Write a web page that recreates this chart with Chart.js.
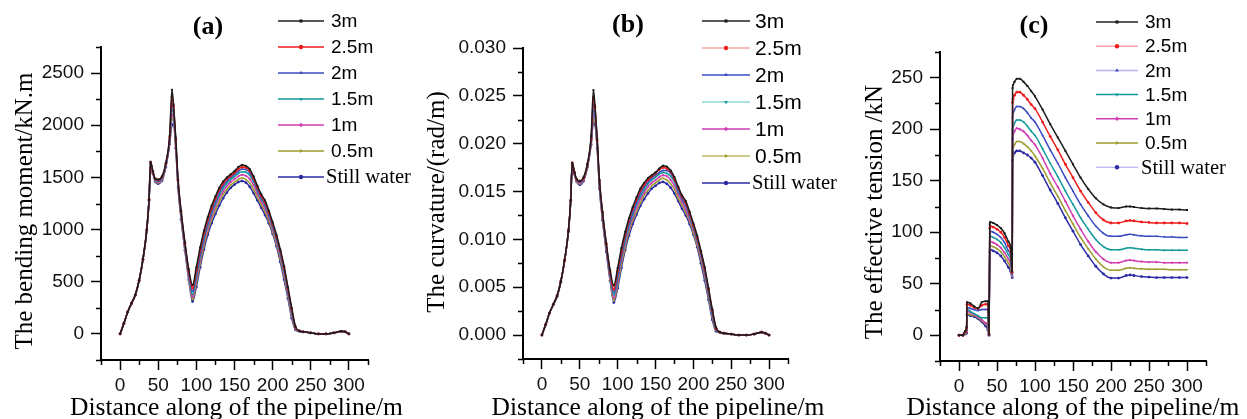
<!DOCTYPE html>
<html>
<head>
<meta charset="utf-8">
<script src="https://cdn.jsdelivr.net/npm/chart.js@4.4.0/dist/chart.umd.min.js"></script>
<style>
  html, body { margin: 0; padding: 0; background: #fff; width: 1247px; height: 419px; overflow: hidden; }
  canvas { position: absolute; top: 0; }
</style>
</head>
<body>
<canvas id="chartA" width="420" height="419" style="left:0"></canvas>
<canvas id="chartB" width="420" height="419" style="left:420px"></canvas>
<canvas id="chartC" width="407" height="419" style="left:840px"></canvas>
<script>
// ---- data ----
const waveLabels = ['3m', '2.5m', '2m', '1.5m', '1m', '0.5m', 'Still water'];

const xTickValues = [0, 50, 100, 150, 200, 250, 300];
const xMinorValues = [-25, 25, 75, 125, 175, 225, 275, 325];
const momentTickValues = [0, 500, 1000, 1500, 2000, 2500];
const momentMinorValues = [-250, 250, 750, 1250, 1750, 2250, 2750];
const curvatureTickValues = [0, 0.005, 0.01, 0.015, 0.02, 0.025, 0.03];
const curvatureMinorValues = [-0.0025, 0.0025, 0.0075, 0.0125, 0.0175, 0.0225, 0.0275];
const tensionTickValues = [0, 50, 100, 150, 200, 250];
const tensionMinorValues = [-25, 25, 75, 125, 175, 225, 275];

// distance along the pipeline (m), panels (a) and (b)
const distAB = [0,5,10,15,20,25,30,35,38,40,43,46,50,55,60,65,68,70,73,76,80,85,90,95,
  100,105,110,115,120,125,130,135,140,145,150,155,160,165,170,175,180,185,190,195,200,205,210,215,220,225,230,
  235,240,250,260,270,280,290,295,300];

// bending moment (kN.m)
const moment3m  = [0,100,210,295,375,515,720,1000,1290,1650,1560,1490,1480,1510,1640,1900,2340,2200,1880,1480,1180,880,620,470,
  640,830,990,1120,1230,1320,1400,1460,1500,1530,1560,1600,1620,1610,1580,1510,1420,1340,1280,1180,1070,950,810,650,450,250,70,
  30,20,10,0,0,10,25,20,0];
const moment25m = [0,100,210,295,375,515,715,1000,1290,1645,1555,1485,1475,1505,1630,1880,2270,2180,1860,1470,1170,870,600,440,
  610,800,965,1095,1205,1300,1380,1440,1485,1515,1545,1580,1600,1595,1565,1495,1405,1325,1260,1165,1055,935,795,635,435,235,65,
  30,20,10,0,0,10,25,20,0];
const moment2m  = [0,100,210,295,372,512,715,995,1285,1640,1550,1480,1470,1500,1620,1860,2200,2150,1840,1455,1155,855,585,410,
  580,770,940,1070,1180,1275,1355,1420,1465,1500,1530,1560,1580,1575,1545,1480,1390,1310,1245,1150,1040,920,780,620,420,220,60,
  28,20,10,0,0,10,25,20,0];
const moment15m = [0,100,210,292,372,512,712,995,1285,1640,1548,1475,1460,1492,1612,1850,2150,2110,1820,1440,1140,840,570,380,
  550,740,910,1045,1155,1250,1330,1395,1445,1480,1510,1540,1555,1550,1520,1460,1375,1295,1230,1135,1025,905,765,605,405,205,55,
  28,20,10,0,0,10,25,20,0];
const moment1m  = [0,100,210,292,372,510,712,992,1282,1635,1545,1470,1452,1485,1608,1840,2100,2080,1805,1425,1125,825,555,355,
  520,710,880,1015,1125,1220,1300,1365,1415,1455,1485,1510,1525,1515,1485,1425,1345,1270,1200,1110,1005,885,745,585,390,190,50,
  27,20,10,0,0,10,25,20,0];
const moment05m = [0,100,210,290,370,510,710,990,1280,1632,1542,1465,1446,1478,1604,1830,2060,2045,1790,1410,1110,810,535,330,
  485,675,845,985,1095,1185,1265,1335,1385,1425,1455,1480,1495,1480,1445,1385,1310,1240,1170,1085,980,860,720,555,365,170,45,
  26,20,10,0,0,10,25,20,0];
const momentStill = [0,100,210,290,370,510,710,990,1280,1630,1540,1460,1440,1470,1600,1820,2000,2010,1780,1400,1100,800,520,310,
  450,640,810,950,1060,1150,1230,1300,1355,1400,1430,1455,1465,1450,1410,1350,1280,1210,1140,1060,960,840,690,520,340,150,40,
  25,20,10,0,0,10,25,20,0];

// curvature (rad/m)
const curv3m  = [0,0.0011,0.0023,0.0032,0.0041,0.0056,0.0079,0.0109,0.0141,0.0180,0.0170,0.0163,0.0161,0.0165,0.0179,0.0208,0.0256,0.0240,0.0205,0.0162,0.0129,0.0096,0.0068,0.0052,
  0.0070,0.0091,0.0108,0.0122,0.0134,0.0144,0.0153,0.0159,0.0164,0.0167,0.0170,0.0174,0.0177,0.0176,0.0172,0.0165,0.0155,0.0146,0.0140,0.0129,0.0117,0.0104,0.0088,0.0071,0.0049,0.0027,0.0008,
  0.0003,0.0002,0.0001,0,0,0.0001,0.0003,0.0002,0];
const curv25m = [0,0.0011,0.0023,0.0032,0.0041,0.0056,0.0078,0.0109,0.0141,0.0180,0.0170,0.0162,0.0161,0.0164,0.0178,0.0205,0.0248,0.0238,0.0203,0.0161,0.0128,0.0095,0.0066,0.0048,
  0.0067,0.0087,0.0105,0.0120,0.0132,0.0142,0.0151,0.0157,0.0162,0.0166,0.0169,0.0173,0.0175,0.0174,0.0171,0.0163,0.0154,0.0145,0.0138,0.0127,0.0115,0.0102,0.0087,0.0069,0.0048,0.0026,0.0007,
  0.0003,0.0002,0.0001,0,0,0.0001,0.0003,0.0002,0];
const curv2m  = [0,0.0011,0.0023,0.0032,0.0041,0.0056,0.0078,0.0109,0.0140,0.0179,0.0169,0.0162,0.0160,0.0164,0.0177,0.0203,0.0241,0.0235,0.0201,0.0159,0.0126,0.0093,0.0064,0.0045,
  0.0063,0.0084,0.0103,0.0117,0.0129,0.0139,0.0148,0.0155,0.0160,0.0164,0.0167,0.0170,0.0172,0.0172,0.0169,0.0162,0.0152,0.0143,0.0136,0.0126,0.0114,0.0101,0.0085,0.0068,0.0046,0.0024,0.0007,
  0.0003,0.0002,0.0001,0,0,0.0001,0.0003,0.0002,0];
const curv15m = [0,0.0011,0.0023,0.0032,0.0041,0.0056,0.0078,0.0109,0.0140,0.0179,0.0169,0.0161,0.0160,0.0163,0.0176,0.0202,0.0235,0.0231,0.0199,0.0157,0.0125,0.0092,0.0062,0.0042,
  0.0060,0.0081,0.0099,0.0114,0.0126,0.0137,0.0145,0.0152,0.0158,0.0162,0.0165,0.0168,0.0170,0.0169,0.0166,0.0160,0.0150,0.0142,0.0135,0.0124,0.0112,0.0099,0.0084,0.0066,0.0044,0.0022,0.0006,
  0.0003,0.0002,0.0001,0,0,0.0001,0.0003,0.0002,0];
const curv1m  = [0,0.0011,0.0023,0.0032,0.0041,0.0056,0.0078,0.0108,0.0140,0.0179,0.0168,0.0161,0.0159,0.0162,0.0176,0.0201,0.0230,0.0228,0.0197,0.0156,0.0123,0.0090,0.0060,0.0039,
  0.0057,0.0078,0.0096,0.0111,0.0123,0.0133,0.0142,0.0149,0.0155,0.0159,0.0162,0.0165,0.0167,0.0166,0.0162,0.0156,0.0147,0.0139,0.0131,0.0121,0.0110,0.0097,0.0082,0.0064,0.0043,0.0021,0.0006,
  0.0003,0.0002,0.0001,0,0,0.0001,0.0003,0.0002,0];
const curv05m = [0,0.0011,0.0023,0.0032,0.0040,0.0056,0.0078,0.0108,0.0140,0.0178,0.0168,0.0160,0.0158,0.0162,0.0175,0.0200,0.0226,0.0224,0.0196,0.0154,0.0121,0.0089,0.0058,0.0036,
  0.0053,0.0074,0.0092,0.0108,0.0120,0.0129,0.0138,0.0146,0.0151,0.0156,0.0159,0.0162,0.0164,0.0162,0.0158,0.0152,0.0143,0.0136,0.0128,0.0119,0.0107,0.0094,0.0079,0.0061,0.0040,0.0019,0.0005,
  0.0003,0.0002,0.0001,0,0,0.0001,0.0003,0.0002,0];
const curvStill = [0,0.0011,0.0023,0.0032,0.0040,0.0056,0.0078,0.0108,0.0140,0.0178,0.0168,0.0160,0.0157,0.0161,0.0175,0.0199,0.0222,0.0220,0.0195,0.0153,0.0120,0.0087,0.0057,0.0034,
  0.0049,0.0070,0.0089,0.0104,0.0116,0.0126,0.0135,0.0142,0.0148,0.0153,0.0156,0.0159,0.0160,0.0158,0.0154,0.0148,0.0140,0.0132,0.0125,0.0116,0.0105,0.0092,0.0075,0.0057,0.0037,0.0016,0.0004,
  0.0003,0.0002,0.0001,0,0,0.0001,0.0003,0.0002,0];

// distance along the pipeline (m), panel (c)
const distC = [0,5,8,10,10.5,15,20,25,30,35,38,39.5,40.5,41,45,50,55,60,65,68,70,70.5,71,
  73,76,80,85,90,95,100,110,120,130,140,150,160,170,180,190,200,210,220,225,230,240,250,260,270,280,290,300];

// effective tension (kN)
const tension3m  = [0,0,4,8,32,31,28,26,32,33,33,1,108,110,109,107,104,99,91,85,62,240,243,
  246,249,249,246,242,237,232,219,205,192,179,166,153,142,133,127,124,123.5,125,125,124.5,123.5,123,123,122.5,122,122,121.5];
const tension25m = [0,0,3,7,30,29,27,26,29,30,30,1,104,106,105,103,100,95,87,81,61,226,229,
  233,236,236,233,229,224,220,207,193,180,166,153,140,129,119,112,109,109,111,111.5,111,110,109.5,109,109,109,109,108.5];
const tension2m  = [0,0,3,6,27,26,25,24,25,25,25,1,99,101,100,98,95,90,82,77,60,212,215,
  219,222,222,220,216,211,207,194,180,167,153,140,127,116,106,99,96,96,97.5,98,97.5,96.5,96,96,95.5,95.5,95,95];
const tension15m = [0,0,2,5,25,23,21,19,17,17,17,1,94,96,95,93,90,85,78,73,59,199,202,
  206,209,209,207,203,198,194,181,167,154,140,127,114,103,93,86,83,83,84.5,85,84.5,83.5,83,83,82.5,82.5,82.5,82.5];
const tension1m  = [0,0,2,4,23,22,20,18,15,12,10,1,89,91,90,88,85,80,74,69,58,191,195,
  198,201,200,198,194,189,185,172,157,144,130,116,103,91,81,74,70.5,70.5,72.5,73,72.5,71.5,71,71,70.5,70.5,70.5,70.5];
const tension05m = [0,0,1,3,21,20,19,17,14,11,8,1,85,87,86,84,81,76,70,65,57,178,182,
  185,188,188,186,183,179,174,162,148,135,121,108,95,84,74,66.5,63,63,65,65.5,65,64.5,64,64,64,63.5,63.5,63.5];
const tensionStill = [0,0,1,2,20,19,18,16,13,9,5,0,81,83,82,80,77,72,66,62,56,170,174,
  177,179,179,177,175,172,168,155,141,128,114,101,88,77,67,59.5,55.5,55.5,58,58.5,58,57,56.5,56,56,56,56,56];

// ---- styling ----
const seriesColors = ['#1c1c1c', '#ee1c1c', '#3a4cc0', '#12999a', '#cf3fb2', '#9c9c2c', '#2b2ba6'];
const markerStyles = ['rect', 'circle', 'triangle', 'triangle', 'rectRot', 'triangle', 'circle'];
const markerRotations = [0, 0, 0, 180, 0, 90, 0];
const SANS = '"Liberation Sans", Arial, sans-serif';
const SERIF = '"Liberation Serif", "Times New Roman", serif';

// draws panel letter, legend, axis titles and minor ticks
const decor = {
  id: 'decor',
  afterDraw(chart, args, o) {
    const { ctx, chartArea: area, scales } = chart;
    const xs = scales.x, ys = scales.y;
    ctx.save();
    ctx.strokeStyle = '#000';
    ctx.fillStyle = '#000';
    ctx.lineWidth = 1.5;
    ctx.beginPath();
    o.xMinor.forEach(v => {
      const px = Math.round(xs.getPixelForValue(v)) + 0.5;
      ctx.moveTo(px, area.bottom);
      ctx.lineTo(px, area.bottom + 5);
    });
    o.yMinor.forEach(v => {
      const py = Math.round(ys.getPixelForValue(v)) + 0.5;
      ctx.moveTo(area.left, py);
      ctx.lineTo(area.left - 5, py);
    });
    ctx.stroke();

    // panel letter
    ctx.font = 'bold 26px ' + SERIF;
    ctx.textAlign = 'center';
    ctx.textBaseline = 'alphabetic';
    ctx.fillText(o.label, o.labelX, o.labelBase);

    // axis titles
    ctx.font = '25.5px ' + SERIF;
    ctx.fillText(o.xTitle, o.xTitleX, o.xTitleBase);
    ctx.save();
    ctx.translate(o.yTitleBase, o.yTitleY);
    ctx.rotate(-Math.PI / 2);
    ctx.font = '25px ' + SERIF;
    ctx.fillText(o.yTitle, 0, 0);
    ctx.restore();

    // legend
    const lg = o.legend;
    chart.data.datasets.forEach((ds, i) => {
      const y = lg.y + i * lg.gap;
      ctx.strokeStyle = lg.lineColors[i];
      ctx.lineWidth = 1.5;
      ctx.beginPath();
      ctx.moveTo(lg.x, y);
      ctx.lineTo(lg.x + lg.len, y);
      ctx.stroke();
      ctx.fillStyle = ds.borderColor;
      ctx.strokeStyle = ds.borderColor;
      Chart.helpers.drawPoint(ctx, { pointStyle: ds.pointStyle, rotation: ds.pointRotation, radius: 2.2, borderWidth: 0 }, lg.x + lg.len / 2, y);
      ctx.fillStyle = '#000';
      ctx.textAlign = 'left';
      ctx.textBaseline = 'middle';
      const still = ds.label === 'Still water';
      ctx.font = still ? '20.5px ' + SERIF : lg.font + 'px ' + SANS;
      ctx.fillText(ds.label, lg.x + lg.len + (still ? lg.stillGap : lg.textGap), y + 1);
    });
    ctx.restore();
  }
};

function makeChart(id, cfg) {
  const datasets = cfg.series.map((vals, i) => ({
    label: waveLabels[i],
    data: vals.map((v, k) => ({ x: cfg.dist[k], y: v })),
    borderColor: seriesColors[i],
    backgroundColor: seriesColors[i],
    borderWidth: 1.5,
    pointRadius: 1.4,
    pointBorderWidth: 0,
    pointStyle: markerStyles[i],
    pointRotation: markerRotations[i],
    cubicInterpolationMode: 'monotone',
    fill: false
  }));
  return new Chart(document.getElementById(id), {
    type: 'line',
    data: { datasets },
    options: {
      responsive: false,
      animation: false,
      devicePixelRatio: 1,
      events: [],
      layout: { padding: cfg.padding },
      plugins: { legend: { display: false }, tooltip: { enabled: false }, decor: cfg.decor },
      scales: {
        x: {
          type: 'linear', min: -25, max: 325,
          afterBuildTicks: s => { s.ticks = xTickValues.map(v => ({ value: v })); },
          afterFit: s => { s.height = cfg.xAxisHeight; },
          border: { color: '#000', width: 2 },
          grid: { drawOnChartArea: false, tickLength: 10, tickWidth: 1.5, tickColor: '#000' },
          ticks: { color: '#111', font: { family: SANS, size: 19 }, padding: 4, maxRotation: 0, autoSkip: false,
                   callback: v => String(v) }
        },
        y: {
          type: 'linear', min: cfg.yMin, max: cfg.yMax,
          afterBuildTicks: s => { s.ticks = cfg.yTicks.map(v => ({ value: v })); },
          afterFit: s => { s.width = cfg.yAxisWidth; },
          border: { color: '#000', width: 2 },
          grid: { drawOnChartArea: false, tickLength: 10, tickWidth: 1.5, tickColor: '#000' },
          ticks: { color: '#111', font: { family: SANS, size: 19 }, padding: 7, autoSkip: false,
                   callback: cfg.yFormat }
        }
      }
    },
    plugins: [decor]
  });
}

makeChart('chartA', {
  dist: distAB,
  series: [moment3m, moment25m, moment2m, moment15m, moment1m, moment05m, momentStill],
  yMin: -250, yMax: 2750, yTicks: momentTickValues, yFormat: v => String(v),
  padding: { left: 0, top: 47, right: 52, bottom: 0 }, yAxisWidth: 101, xAxisHeight: 59,
  decor: {
    label: '(a)', labelX: 208, labelBase: 34,
    xTitle: 'Distance along of the pipeline/m', xTitleX: 236.5, xTitleBase: 415,
    yTitle: 'The bending moment/kN.m', yTitleBase: 32, yTitleY: 211,
    xMinor: xMinorValues, yMinor: momentMinorValues,
    legend: { x: 278, len: 46, y: 21, gap: 26, font: 19, textGap: 7, stillGap: 2, lineColors: seriesColors }
  }
});

makeChart('chartB', {
  dist: distAB,
  series: [curv3m, curv25m, curv2m, curv15m, curv1m, curv05m, curvStill],
  yMin: -0.0025, yMax: 0.03, yTicks: curvatureTickValues, yFormat: v => v.toFixed(3),
  padding: { left: 0, top: 48, right: 52, bottom: 0 }, yAxisWidth: 103, xAxisHeight: 60,
  decor: {
    label: '(b)', labelX: 208, labelBase: 32,
    xTitle: 'Distance along of the pipeline/m', xTitleX: 238, xTitleBase: 415,
    yTitle: 'The curvature/(rad/m)', yTitleBase: 24, yTitleY: 202,
    xMinor: xMinorValues, yMinor: curvatureMinorValues,
    legend: { x: 282, len: 48, y: 21, gap: 27, font: 21, textGap: 5, stillGap: 2,
              lineColors: ['#222222', '#f5a8a8', '#3a4cc0', '#8fd8d8', '#cf3fb2', '#b9b96a', '#2b2ba6'] }
  }
});

makeChart('chartC', {
  dist: distC,
  series: [tension3m, tension25m, tension2m, tension15m, tension1m, tension05m, tensionStill],
  yMin: -25, yMax: 275, yTicks: tensionTickValues, yFormat: v => String(v),
  padding: { left: 0, top: 52, right: 41, bottom: 0 }, yAxisWidth: 100, xAxisHeight: 58,
  decor: {
    label: '(c)', labelX: 194, labelBase: 33,
    xTitle: 'Distance along of the pipeline/m', xTitleX: 233, xTitleBase: 415,
    yTitle: 'The effective tension /kN', yTitleBase: 42, yTitleY: 212,
    xMinor: xMinorValues, yMinor: tensionMinorValues,
    legend: { x: 256, len: 42, y: 22, gap: 24.2, font: 19, textGap: 7, stillGap: 3,
              lineColors: ['#222222', '#f5a8a8', '#b5b5ee', '#12999a', '#cf3fb2', '#9c9c2c', '#c0c0f2'] }
  }
});
</script>
</body>
</html>
